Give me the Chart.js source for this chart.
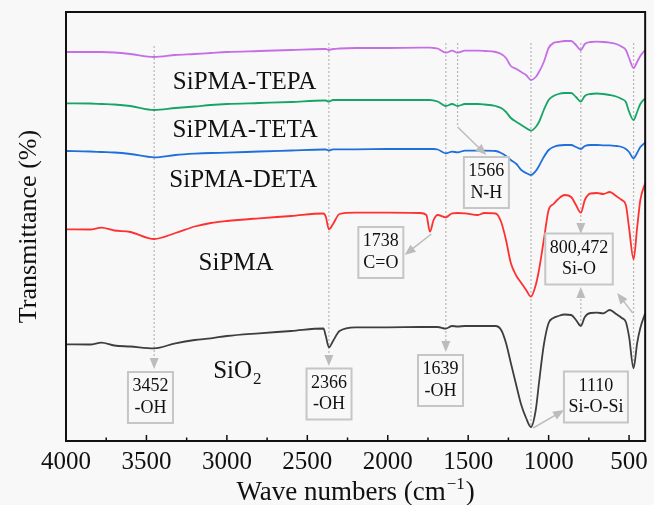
<!DOCTYPE html>
<html lang="en">
<head>
<meta charset="UTF-8" />
<title>FTIR spectra SiO2 / SiPMA</title>
<style>
  html, body { margin: 0; padding: 0; background: #f8f8f8; }
  #ftir { display: block; }
</style>
</head>
<body>
<canvas id="ftir" width="654" height="505"></canvas>

<script src="https://cdn.jsdelivr.net/npm/chart.js"></script>
<script>
// wave numbers (cm-1) shared by every spectrum
const wavenumbers = [
  4000, 3850, 3780, 3700, 3600, 3452, 3320, 3200, 3100, 3000,
  2800, 2600, 2400, 2385, 2366, 2340, 2300, 2200, 2000,
  1800, 1760, 1738, 1715, 1690, 1639, 1600, 1566, 1520, 1440, 1400,
  1330, 1295, 1265, 1235, 1200, 1170, 1140, 1110, 1080, 1060, 1030, 1000,
  970, 940, 900, 860, 830, 800, 775, 740, 700, 660, 620, 580, 545, 520, 500, 472, 450, 430, 400
];

// transmittance (a.u., stacked with offsets as in the figure)
const sio2 = [
  96.7, 96.5, 98.3, 95.5, 94.5, 92.7, 97.7, 101, 102.7, 105,
  107.7, 110, 112.5, 105, 93.7, 100, 110, 113.7, 113.7,
  114, 114, 114, 114, 114, 112.3, 115, 114.5, 115, 115, 115,
  115, 111, 98, 78, 55, 36, 23, 14, 31, 58, 96, 118,
  123, 125, 126.5, 126, 121, 115, 124, 128, 128.3, 127.7, 131, 127, 123, 119, 104.3, 72.7, 97.7, 113, 127.7
];
const sipma = [
  211.7, 211.5, 213.3, 210.5, 209, 202, 208, 214.5, 218, 220,
  222.7, 225, 227.5, 224.3, 211.7, 217, 227, 228.3, 228.3,
  228, 226, 209.3, 221, 226, 223.7, 227.7, 228, 227.7, 226, 228,
  227.5, 219, 201, 178, 165, 158, 151, 144.3, 156, 171, 201, 231,
  237, 242, 246, 244, 236, 228.3, 241, 247.5, 248, 247, 249, 245, 241, 236, 213, 181.7, 213, 241, 257.7
];
const sipmaDeta = [
  290, 289.5, 289, 288.5, 287, 283.7, 286, 287.3, 288, 288.3,
  289.5, 290.5, 291.5, 291.5, 290.5, 291.7, 291.7, 291.7, 292,
  292, 292, 292, 292, 291.5, 287.7, 289.3, 288.7, 290.3, 290.3, 290.3,
  290, 288, 285, 281, 277, 271, 268, 266, 270, 275, 284, 291,
  294, 295.5, 296, 296, 294, 292, 295, 296, 296, 295.7, 295.7, 295, 294, 292, 289, 282.7, 288, 294, 298.3
];
const sipmaTeta = [
  337.7, 337.5, 337, 336.5, 335, 331, 333, 334.5, 336, 337,
  338, 339, 340.5, 340.5, 339.3, 341, 341, 341, 341,
  341, 341, 341, 340.5, 339.5, 335, 337, 335, 337, 337, 336.5,
  335, 333, 329, 323, 319, 316, 313, 310.3, 314, 319, 331, 341,
  345, 347, 348, 348, 344, 339.3, 345, 347, 347.5, 347, 346, 344.5, 342, 339, 329.3, 321, 329, 337, 342.7
];
const sipmaTepa = [
  389, 389, 389, 388.5, 387, 384, 386, 387, 388, 389,
  390, 391, 392, 392, 391, 392, 392.5, 393, 393,
  393.3, 393.3, 393.3, 393, 392.5, 388.3, 390.3, 388.3, 390.3, 390.3, 390,
  389, 387, 383, 375, 372, 369, 366, 361, 364, 369, 379, 393,
  398, 399, 400, 400, 396, 391, 397, 399, 399.3, 399, 398.3, 397, 394.3, 391, 383, 373, 379, 385, 391
];

const xTicks = [4000, 3500, 3000, 2500, 2000, 1500, 1000, 500];
const xMinorTicks = [3750, 3250, 2750, 2250, 1750, 1250, 750];

// sample names written inside the plot (position in wave number / transmittance)
const sampleLabels = [
  { text: 'SiPMA-TEPA', w: 2890, t: 359 },
  { text: 'SiPMA-TETA', w: 2886, t: 311 },
  { text: 'SiPMA-DETA', w: 2898, t: 261 },
  { text: 'SiPMA', w: 2943, t: 178 },
  { text: 'SiO', sub: '2', w: 2938, t: 70 }
];

// peak assignment boxes
const peakBoxes = [
  { lines: ['3452', '-OH'], w: 3475, t: 43.5 },
  { lines: ['2366', '-OH'], w: 2365, t: 47 },
  { lines: ['1639', '-OH'], w: 1672, t: 60.5 },
  { lines: ['1110', 'Si-O-Si'], w: 706, t: 44 },
  { lines: ['800,472', 'Si-O'], w: 811, t: 182 },
  { lines: ['1738', 'C=O'], w: 2043, t: 188.5 },
  { lines: ['1566', 'N-H'], w: 1387, t: 258.5 }
];

// dotted guide lines at the peaks (from -> to, head = arrow at the end)
const guides = [
  { w: 3452, from: 395, to: 72, head: true },
  { w: 2366, from: 398, to: 75, head: true },
  { w: 1639, from: 398, to: 89, head: true },
  { w: 1566, from: 398, to: 314 },
  { w: 1110, from: 398, to: 13 },
  { w: 800, from: 398, to: 207, head: true },
  { w: 800, from: 116, to: 154, head: true },
  { w: 472, from: 398, to: 73 }
];

// solid pointer arrows [wave number, transmittance]
const pointers = [
  { from: [1566, 314], to: [1387, 286] },
  { from: [1729, 207], to: [1895, 186] },
  { from: [1096, 13], to: [904, 31] },
  { from: [477, 128], to: [574, 148] }
];

const SERIF = "'Liberation Serif', 'Times New Roman', serif";
const GUIDE = '#bcbcbc';

function arrowHead(ctx, x0, y0, x1, y1, len, half) {
  const a = Math.atan2(y1 - y0, x1 - x0);
  const bx = x1 - len * Math.cos(a), by = y1 - len * Math.sin(a);
  ctx.beginPath();
  ctx.moveTo(x1, y1);
  ctx.lineTo(bx + half * Math.sin(a), by - half * Math.cos(a));
  ctx.lineTo(bx - half * Math.sin(a), by + half * Math.cos(a));
  ctx.closePath();
  ctx.fill();
}

const decorations = {
  id: 'decorations',
  beforeDatasetsDraw(chart) {
    const { ctx, scales: { x, y } } = chart;
    ctx.save();
    ctx.strokeStyle = GUIDE;
    ctx.fillStyle = GUIDE;
    ctx.lineWidth = 1.3;
    guides.forEach(g => {
      const px = x.getPixelForValue(g.w);
      const y0 = y.getPixelForValue(g.from), y1 = y.getPixelForValue(g.to);
      const dir = y1 > y0 ? 1 : -1;
      ctx.setLineDash([2, 2]);
      ctx.beginPath();
      ctx.moveTo(px, y0);
      ctx.lineTo(px, g.head ? y1 - dir * 10 : y1);
      ctx.stroke();
      ctx.setLineDash([]);
      if (g.head) arrowHead(ctx, px, y0, px, y1, 11, 4.5);
    });
    ctx.restore();
  },
  afterDatasetsDraw(chart) {
    const { ctx, chartArea: a, scales: { x, y } } = chart;
    ctx.save();

    // frame
    ctx.strokeStyle = '#111';
    ctx.lineWidth = 2;
    ctx.strokeRect(a.left, a.top, a.right - a.left, a.bottom - a.top);

    // inward tick marks
    ctx.lineWidth = 1.5;
    ctx.beginPath();
    xTicks.forEach(v => {
      const px = x.getPixelForValue(v);
      ctx.moveTo(px, a.bottom); ctx.lineTo(px, a.bottom - 6);
    });
    xMinorTicks.forEach(v => {
      const px = x.getPixelForValue(v);
      ctx.moveTo(px, a.bottom); ctx.lineTo(px, a.bottom - 3.5);
    });
    ctx.stroke();

    // pointer arrows
    ctx.strokeStyle = GUIDE;
    ctx.fillStyle = GUIDE;
    ctx.lineWidth = 1.5;
    pointers.forEach(p => {
      const x0 = x.getPixelForValue(p.from[0]), y0 = y.getPixelForValue(p.from[1]);
      const x1 = x.getPixelForValue(p.to[0]), y1 = y.getPixelForValue(p.to[1]);
      const ang = Math.atan2(y1 - y0, x1 - x0);
      ctx.beginPath();
      ctx.moveTo(x0, y0);
      ctx.lineTo(x1 - 9 * Math.cos(ang), y1 - 9 * Math.sin(ang));
      ctx.stroke();
      arrowHead(ctx, x0, y0, x1, y1, 11, 4.5);
    });

    // peak boxes
    ctx.font = '18px ' + SERIF;
    ctx.textAlign = 'center';
    ctx.textBaseline = 'middle';
    peakBoxes.forEach(b => {
      const cx = x.getPixelForValue(b.w), cy = y.getPixelForValue(b.t);
      const tw = Math.max(...b.lines.map(l => ctx.measureText(l).width));
      const bw = tw + 9, bh = 51;
      ctx.fillStyle = '#f8f8f8';
      ctx.fillRect(cx - bw / 2, cy - bh / 2, bw, bh);
      ctx.strokeStyle = '#c6c6c6';
      ctx.lineWidth = 2;
      ctx.strokeRect(cx - bw / 2, cy - bh / 2, bw, bh);
      ctx.fillStyle = '#111';
      b.lines.forEach((l, i) => ctx.fillText(l, cx, cy + (i - 0.5) * 21.5));
    });

    // sample names
    ctx.fillStyle = '#111';
    sampleLabels.forEach(s => {
      const cx = x.getPixelForValue(s.w), cy = y.getPixelForValue(s.t);
      ctx.font = '25px ' + SERIF;
      if (!s.sub) {
        ctx.textAlign = 'center';
        ctx.fillText(s.text, cx, cy);
        return;
      }
      const w1 = ctx.measureText(s.text).width;
      ctx.font = '17px ' + SERIF;
      const w2 = ctx.measureText(s.sub).width;
      const left = cx - (w1 + w2) / 2;
      ctx.textAlign = 'left';
      ctx.font = '25px ' + SERIF;
      ctx.fillText(s.text, left, cy);
      ctx.font = '17px ' + SERIF;
      ctx.fillText(s.sub, left + w1 + 1, cy + 9);
    });

    // x axis title with superscript
    const base = x.bottom - 5;
    ctx.textBaseline = 'alphabetic';
    ctx.textAlign = 'left';
    ctx.font = '27px ' + SERIF;
    const t1 = 'Wave numbers (cm', t3 = ')';
    const w1 = ctx.measureText(t1).width, w3 = ctx.measureText(t3).width;
    ctx.font = '17px ' + SERIF;
    const t2 = '\u22121';
    const w2 = ctx.measureText(t2).width;
    let tx = (a.left + a.right) / 2 - (w1 + w2 + w3 + 2) / 2;
    ctx.font = '27px ' + SERIF;
    ctx.fillText(t1, tx, base);
    ctx.font = '17px ' + SERIF;
    ctx.fillText(t2, tx + w1 + 1, base - 11);
    ctx.font = '27px ' + SERIF;
    ctx.fillText(t3, tx + w1 + w2 + 2, base);

    ctx.restore();
  }
};

function spectrum(label, values, color) {
  return {
    label,
    data: wavenumbers.map((w, i) => ({ x: w, y: values[i] })),
    borderColor: color,
    borderWidth: 1.8,
    pointRadius: 0,
    fill: false,
    cubicInterpolationMode: 'monotone'
  };
}

new Chart(document.getElementById('ftir'), {
  type: 'line',
  data: {
    datasets: [
      spectrum('SiO2', sio2, '#3e3e3e'),
      spectrum('SiPMA', sipma, '#ff3030'),
      spectrum('SiPMA-DETA', sipmaDeta, '#1f6fdc'),
      spectrum('SiPMA-TETA', sipmaTeta, '#16a566'),
      spectrum('SiPMA-TEPA', sipmaTepa, '#c56ee6')
    ]
  },
  options: {
    responsive: false,
    animation: false,
    devicePixelRatio: 1,
    layout: { padding: { top: 12, right: 6.5, left: 0, bottom: 0 } },
    plugins: { legend: { display: false }, tooltip: { enabled: false } },
    scales: {
      x: {
        type: 'linear',
        reverse: true,
        min: 400,
        max: 4000,
        grid: { display: false, drawTicks: false },
        border: { display: false },
        afterBuildTicks: scale => { scale.ticks = xTicks.map(v => ({ value: v })); },
        afterFit: scale => { scale.height = 64; },
        ticks: {
          color: '#111',
          padding: 6,
          maxRotation: 0,
          autoSkip: false,
          font: { family: SERIF, size: 25 },
          callback: v => String(v)
        }
      },
      y: {
        min: 0,
        max: 429,
        grid: { display: false, drawTicks: false },
        border: { display: false },
        ticks: { display: false },
        afterFit: scale => { scale.width = 66; },
        title: {
          display: true,
          text: 'Transmittance (%)',
          color: '#111',
          font: { family: SERIF, size: 26 },
          padding: { top: 14, bottom: 0 }
        }
      }
    }
  },
  plugins: [decorations]
});
</script>
</body>
</html>
